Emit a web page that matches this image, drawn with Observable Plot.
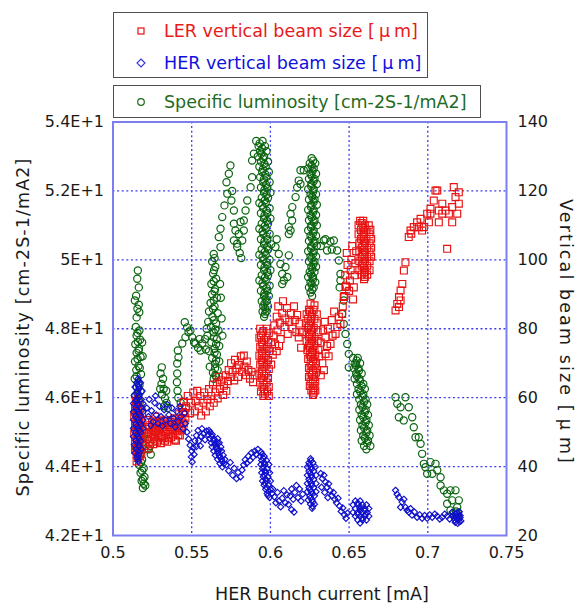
<!DOCTYPE html>
<html>
<head>
<meta charset="utf-8">
<script src="https://cdn.jsdelivr.net/npm/d3@7"></script>
<script src="https://cdn.jsdelivr.net/npm/@observablehq/plot@0.6"></script>
<style>
  body { margin: 0; background: #fff; }
  #wrap { position: relative; width: 588px; height: 605px; font-family: "DejaVu Sans", sans-serif; }
  .box { position: absolute; border: 1.5px solid #505050; background: #fff; box-sizing: border-box; }
  .row { position: absolute; left: 0; white-space: nowrap; font-size: 17.5px; line-height: 20px; height: 20px; }
  .row svg { position: absolute; left: 20px; top: 3px; }
  .row .t { position: absolute; left: 50px; top: 0; }
  .mu { margin: 0 4px; }
</style>
</head>
<body>
<div id="wrap">
  <div id="chart"></div>
  <div class="box" style="left:113px; top:12px; width:315px; height:66px;">
    <div class="row" style="top:8px;">
      <svg width="14" height="14"><rect x="4" y="4" width="6" height="6" fill="none" stroke="#e81010" stroke-width="1.2"/></svg>
      <span class="t" style="color:#e81a1a">LER vertical beam size [<span class="mu">μ</span>m]</span>
    </div>
    <div class="row" style="top:40px;">
      <svg width="14" height="14"><path d="M7 3 L11 7 L7 11 L3 7 Z" fill="none" stroke="#3030dd" stroke-width="1.1"/></svg>
      <span class="t" style="color:#1010dd">HER vertical beam size [<span class="mu">μ</span>m]</span>
    </div>
  </div>
  <div class="box" style="left:113px; top:85px; width:368px; height:33px;">
    <div class="row" style="top:5.5px;">
      <svg width="14" height="14"><circle cx="7" cy="7" r="3.3" fill="none" stroke="#1a6a1a" stroke-width="1.2"/></svg>
      <span class="t" style="color:#1f6b1f">Specific luminosity [cm-2S-1/mA2]</span>
    </div>
  </div>
</div>
<script>
// ---------- axis ticks ----------
const xTicks = [0.5, 0.55, 0.6, 0.65, 0.7, 0.75];
const yTicksLeft = [42, 44, 46, 48, 50, 52, 54];          // shown as 4.2E+1 ... 5.4E+1
const yTicksRight = [20, 40, 60, 80, 100, 120, 140];      // vertical beam size [um]
const xGrid = [0.55, 0.6, 0.65, 0.7];
const yGrid = [44, 46, 48, 50, 52];

// ---------- Specific luminosity (left axis) : [bunch current mA, luminosity] ----------
const lumSparse = [
 [0.5158,49.69],[0.5154,49.45],[0.5164,49.2],[0.5147,48.96],[0.5139,48.82],[0.5164,48.7],[0.5155,48.58],[0.5167,48.48],[0.5150,48.33],
 [0.5225,44.8],[0.5235,44.6],[0.5240,44.35],[0.5228,44.5],[0.5185,47.6],[0.5188,47.2],[0.5265,45.0],[0.5280,45.3],
 [0.5310,46.88],[0.5302,46.7],[0.5318,46.55],[0.5308,46.4],[0.5322,46.25],[0.5312,46.1],[0.5330,45.98],[0.5340,45.85],[0.5325,45.75],[0.5348,45.7],[0.5338,46.2],[0.5300,46.25],
 [0.5408,46.7],[0.5406,46.45],[0.5410,46.2],[0.5415,46.0],[0.5430,45.85],[0.5408,46.99],[0.5416,47.17],[0.5412,47.37],[0.5440,47.57],[0.5460,47.75],[0.5471,48.04],[0.5456,48.19],[0.5480,47.9],[0.5492,47.95],[0.5503,47.75],[0.5515,47.6],[0.5524,47.57],[0.5540,47.45],[0.5556,47.37],[0.5567,47.57],[0.5550,47.7],
 [0.5683,50.9],[0.5694,51.24],[0.5708,51.58],[0.5726,51.92],[0.5721,52.25],[0.5746,52.74],[0.5736,52.5],[0.5757,52.0],[0.5752,51.72],[0.5768,51.43],[0.5768,51.05],[0.5778,50.85],[0.5768,50.56],[0.5789,50.47],[0.5799,50.75],[0.5683,50.37],[0.5672,50.66],[0.5810,51.1],[0.5831,51.14],[0.5842,51.43],[0.5853,51.72],[0.5874,52.11],[0.5884,52.4],[0.5884,52.88],[0.5895,53.08],[0.5789,50.37],[0.5821,50.56],[0.5831,50.85],[0.5805,50.2],[0.5815,50.05],
 [0.6032,50.37],[0.6053,50.17],[0.6064,49.88],[0.6075,49.59],[0.6075,49.3],[0.6096,49.79],[0.6117,50.13],[0.6107,49.5],[0.6117,50.95],[0.6117,50.75],[0.6128,51.33],[0.6139,51.53],[0.6160,51.82],[0.6170,52.1],[0.6180,52.3],[0.6191,52.6],[0.6212,52.6],[0.6191,52.2],[0.6138,51.14],[0.6128,50.85],[0.6040,50.6],[0.6085,49.4],
 [0.6339,50.56],[0.6381,50.53],[0.6403,50.56],[0.6424,50.27],[0.6435,49.98],[0.6360,50.27],[0.6320,50.4],[0.6445,49.59],[0.6445,49.4],[0.6440,49.2],[0.6466,48.82],[0.6456,48.43],[0.6466,48.14],[0.6477,47.85],[0.6488,47.56],[0.6498,47.27],[0.6498,46.88],[0.6350,50.6],[0.6390,50.3],
 [0.6795,46.01],[0.6858,46.01],[0.6827,45.72],[0.6879,45.72],[0.6816,45.43],[0.6847,45.34],[0.6901,45.43],[0.6911,45.14],[0.6922,44.85],[0.6943,44.85],[0.6954,44.66],[0.6964,44.37],[0.6975,44.08],[0.6985,43.98],[0.7017,44.13],[0.7049,44.08],[0.7060,43.89],[0.7028,43.79],[0.6996,43.79],[0.7081,43.69],[0.7081,43.45],[0.7102,43.31],[0.7123,43.21],[0.7144,43.31],[0.7155,43.02],[0.7176,43.31],[0.7187,42.82],[0.7187,42.53],[0.7165,42.63],[0.7144,42.73],[0.7123,42.92],[0.7197,43.02],[0.6806,45.82],[0.7192,42.65],[0.7180,42.7]
];
// dense columns: [luminosity, x1, x2, ...]
const lumColumns = [
 [48.05,0.5145],[47.95,0.5168],[47.8,0.5150],[47.68,0.5172],[47.55,0.5142],[47.42,0.5165],[47.3,0.5150],[47.18,0.5175],[47.05,0.5140],[46.92,0.5162],[46.8,0.5148],[46.68,0.5178],[46.55,0.5138],[46.42,0.5160],[46.3,0.5152],[46.18,0.5175],[46.05,0.5140],[45.92,0.5165],[45.8,0.5150],[45.68,0.5180],[45.55,0.5138],[45.42,0.5162],[45.3,0.5150],[45.18,0.5178],[45.05,0.5140],[44.92,0.5165],[44.85,0.5190],[44.8,0.5152],[44.68,0.5182],[44.55,0.5145],[44.45,0.5170],[44.5,0.5200],[44.3,0.5158],[44.2,0.5185],[44.05,0.5165],[43.95,0.5195],[43.82,0.5175],[43.7,0.5200],[43.58,0.5182],[43.45,0.5205],[43.38,0.5190],
 [47.88,0.5156],[47.62,0.5158],[47.36,0.5162],[47.12,0.5156],[46.86,0.5170],[46.62,0.5150],[46.36,0.5168],[46.12,0.5155],[45.86,0.5170],[45.62,0.5150],[45.36,0.5166],[45.12,0.5158],[44.86,0.5175],[44.62,0.5160],[44.38,0.5175],[44.12,0.5178],[43.88,0.5185],[43.64,0.5190],[43.5,0.5195],
 [50.17,0.5640],[49.95,0.5630],[49.8,0.5650],[49.6,0.5636],[49.45,0.5655],[49.3,0.5625,0.5680],[49.15,0.5648],[49.0,0.5630],[48.9,0.5660,0.5685],[48.75,0.5620],[48.65,0.5645],[48.5,0.5610],[48.45,0.5665],[48.35,0.5632],[48.3,0.5690],[48.2,0.5605],[48.15,0.5655],[48.05,0.5622],[48.0,0.5595],[47.95,0.5670],[47.9,0.5640],[47.8,0.5600,0.5695],[47.7,0.5660,0.5585],[47.6,0.5625],[47.5,0.5675],[47.42,0.5645],[47.4,0.5590],[47.35,0.5610],[47.25,0.5660],[47.15,0.5630],[47.05,0.5675],[46.98,0.5648],[46.9,0.5615],[46.8,0.5665],[46.72,0.5635],[46.62,0.5655],[46.55,0.5640],
 [50.05,0.5645],[49.7,0.5642],[49.38,0.5640],[49.08,0.5645],[48.82,0.5640],[48.58,0.5635],[48.25,0.5640],[47.98,0.5650],[47.75,0.5640],[47.55,0.5655],[47.3,0.5645],[47.08,0.5655],[46.85,0.5648],[46.65,0.5650],
 [53.45,0.5910,0.5950],[53.3,0.5925,0.5965],[53.15,0.5935,0.5975],[53.0,0.5920,0.5960],[52.85,0.5940,0.5985],[52.7,0.5930,0.5970],[52.55,0.5948,0.5990],[52.4,0.5935,0.5975],[52.25,0.5955,0.5995],[52.1,0.5940,0.5980],[51.95,0.5960,0.6000],[51.8,0.5945,0.5985],[51.65,0.5930,0.5970],[51.5,0.5955,0.5995],[51.35,0.5940,0.5980],[51.2,0.5960,0.6000],[51.05,0.5945,0.5985],[50.9,0.5930,0.5970],[50.75,0.5955,0.5995],[50.6,0.5940,0.5980],[50.45,0.5960,0.6005],[50.3,0.5945,0.5985],[50.15,0.5930,0.5970],[50.0,0.5955,0.5995],[49.85,0.5940,0.5980],[49.7,0.5960,0.6000],[49.55,0.5945,0.5985],[49.4,0.5930,0.5970],[49.25,0.5955,0.5995],[49.1,0.5940,0.5980],[48.95,0.5960,0.5990],[48.8,0.5945,0.5975],[48.65,0.5955,0.5985],[48.5,0.5950,0.5975],[48.35,0.5960],
 [53.38,0.5932],[53.23,0.5948],[53.08,0.5942],[52.93,0.5955],[52.78,0.5962],[52.63,0.5952],[52.48,0.5968],[52.33,0.5958],[52.18,0.5972],[52.03,0.5962],[51.88,0.5975],[51.73,0.5965],[51.58,0.5948],[51.43,0.5975],[51.28,0.5962],[51.13,0.5978],[50.98,0.5965],[50.83,0.5950],[50.68,0.5975],[50.53,0.5962],[50.38,0.5980],[50.23,0.5965],[50.08,0.5950],[49.93,0.5975],[49.78,0.5962],[49.63,0.5980],[49.48,0.5965],[49.33,0.5950],[49.18,0.5975],[49.03,0.5962],[48.88,0.5970],[48.73,0.5962],[48.58,0.5968],[48.43,0.5965],
 [52.95,0.6262],[52.8,0.6250,0.6285],[52.65,0.6240,0.6275],[52.5,0.6255,0.6290],[52.35,0.6245,0.6280],[52.2,0.6260,0.6295],[52.05,0.6240,0.6275],[51.9,0.6255,0.6290],[51.75,0.6245,0.6280],[51.6,0.6260,0.6295],[51.45,0.6240,0.6275],[51.3,0.6255,0.6290],[51.15,0.6245,0.6280],[51.0,0.6260,0.6295],[50.85,0.6240,0.6275],[50.7,0.6255,0.6290],[50.55,0.6245,0.6280],[50.4,0.6260,0.6295],[50.25,0.6240,0.6275],[50.1,0.6255,0.6290],[49.95,0.6245,0.6280],[49.8,0.6260,0.6290],[49.65,0.6250,0.6280],[49.5,0.6240,0.6270],[49.35,0.6255,0.6285],[49.2,0.6245,0.6275],[49.05,0.6255],[48.95,0.6265],
 [52.88,0.6272],[52.73,0.6262],[52.58,0.6268],[52.43,0.6262],[52.28,0.6275],[52.13,0.6260],[51.98,0.6272],[51.83,0.6265],[51.68,0.6275],[51.53,0.6258],[51.38,0.6272],[51.23,0.6262],[51.08,0.6276],[50.93,0.6258],[50.78,0.6272],[50.63,0.6262],[50.48,0.6276],[50.33,0.6258],[50.18,0.6272],[50.03,0.6262],[49.88,0.6274],[49.73,0.6266],[49.58,0.6258],[49.43,0.6270],[49.28,0.6262],[49.13,0.6266],
 [47.15,0.6525,0.6555],[47.0,0.6540,0.6570],[46.85,0.6530,0.6560],[46.7,0.6545,0.6580],[46.55,0.6535,0.6565],[46.4,0.6550,0.6590],[46.25,0.6560,0.6600],[46.1,0.6550,0.6590],[45.95,0.6565,0.6605],[45.8,0.6575,0.6615],[45.65,0.6565,0.6605],[45.5,0.6580,0.6620],[45.35,0.6570,0.6610],[45.2,0.6585,0.6625],[45.05,0.6575,0.6615],[44.9,0.6590,0.6630],[44.75,0.6580,0.6620],[44.6,0.6595,0.6635],[44.5,0.6610],
 [47.08,0.6548],[46.93,0.6545],[46.78,0.6562],[46.63,0.6550],[46.48,0.6570],[46.33,0.6580],[46.18,0.6570],[46.03,0.6585],[45.88,0.6595],[45.73,0.6585],[45.58,0.6600],[45.43,0.6590],[45.28,0.6605],[45.13,0.6595],[44.98,0.6610],[44.83,0.6600],[44.68,0.6615]
];

// ---------- LER vertical beam size [um] (right axis) ----------
const lerSparse = [
 [0.5205,46.0],[0.5215,48.5],[0.5210,51.0],[0.5220,53.5],[0.5235,47.0],[0.5240,49.5],[0.5232,52.0],[0.5255,46.5],[0.5260,48.8],[0.5265,51.2],[0.5258,53.3],[0.5280,47.2],[0.5285,49.8],[0.5290,52.3],[0.5305,46.8],[0.5310,49.0],[0.5315,51.5],[0.5308,53.6],[0.5330,47.5],[0.5335,50.0],[0.5340,52.5],[0.5355,48.2],[0.5360,50.6],[0.5365,53.0],[0.5380,49.0],[0.5385,51.5],[0.5390,54.0],[0.5400,47.5],[0.5405,50.2],[0.5410,52.8],[0.5420,55.2],[0.5425,49.0],[0.5430,51.6],[0.5435,54.0],[0.5440,57.0],[0.5450,52.5],[0.5455,55.5],[0.5448,58.8],[0.5270,54.5],[0.5225,45.2],
 [0.5218,49.8],[0.5228,51.5],[0.5245,48.0],[0.5250,50.5],[0.5248,52.8],[0.5270,47.5],[0.5272,50.2],[0.5278,52.5],[0.5295,48.5],[0.5298,51.0],[0.5300,53.0],[0.5320,48.2],[0.5322,50.8],[0.5325,53.2],[0.5345,47.2],[0.5348,49.5],[0.5350,52.0],[0.5370,48.5],[0.5372,51.0],[0.5375,53.5],[0.5392,47.8],[0.5395,50.5],[0.5398,52.5],[0.5415,49.2],[0.5418,51.8],[0.5420,53.8],[0.5438,50.5],[0.5442,52.8],[0.5445,55.8],[0.5460,54.0],[0.5462,57.0],
 [0.5465,57.5],[0.5475,60.5],[0.5490,55.5],[0.5495,58.5],[0.5510,61.5],[0.5520,56.0],[0.5525,59.0],[0.5535,62.0],[0.5545,57.5],[0.5555,60.5],[0.5560,54.8],[0.5575,58.5],[0.5580,61.5],[0.5590,56.0],[0.5600,59.5],[0.5610,62.5],[0.5615,57.5],[0.5625,60.5],[0.5635,63.8],[0.5640,58.5],[0.5650,61.5],[0.5660,64.5],[0.5665,59.8],[0.5672,66.0],[0.5680,62.5],[0.5690,65.0],[0.5700,60.8],[0.5705,63.5],[0.5715,66.5],[0.5720,62.0],[0.5730,64.8],[0.5735,68.0],[0.5745,66.0],[0.5750,70.0],[0.5760,67.5],[0.5770,65.0],[0.5775,71.0],[0.5785,68.5],[0.5795,66.0],[0.5800,69.5],[0.5812,72.0],[0.5820,67.5],[0.5831,72.2],[0.5835,69.0],[0.5845,66.5],[0.5850,70.5],[0.5860,68.0],[0.5870,65.5],[0.5880,67.5],[0.5890,64.5],[0.5900,66.5],
 [0.6020,78.0],[0.6025,81.0],[0.6030,75.5],[0.6040,83.5],[0.6045,79.5],[0.6050,86.5],[0.6060,81.8],[0.6065,77.0],[0.6075,84.5],[0.6080,88.0],[0.6090,80.5],[0.6095,83.0],[0.6105,86.0],[0.6110,78.5],[0.6120,82.0],[0.6130,84.5],[0.6140,80.0],[0.6150,86.5],[0.6155,82.5],[0.6165,79.0],[0.6170,84.0],[0.6180,77.5],[0.6185,81.5],[0.6195,74.5],[0.6200,79.0],[0.6040,73.5],[0.6055,75.0],[0.6015,72.5],
 [0.6255,87.3],[0.6280,86.8],
 [0.6320,66.5],[0.6330,70.0],[0.6340,68.0],[0.6350,72.7],[0.6360,75.0],[0.6370,72.0],[0.6382,75.6],[0.6395,78.0],[0.6414,78.5],[0.6425,80.5],[0.6445,81.4],[0.6435,83.5],[0.6456,84.3],[0.6460,86.5],[0.6466,89.2],[0.6477,92.1],[0.6310,72.0],[0.6320,76.0],[0.6335,79.5],[0.6350,77.5],[0.6345,82.0],[0.6365,80.0],[0.6390,82.5],[0.6405,85.0],
 [0.6470,89.5],[0.6480,92.5],[0.6475,95.5],[0.6490,98.5],[0.6485,102.0],[0.6500,91.0],[0.6505,94.0],[0.6510,97.0],[0.6515,100.0],[0.6525,88.5],[0.6530,92.0],[0.6535,95.5],[0.6540,99.0],[0.6545,102.5],[0.6520,104.0],
 [0.6806,87.2],[0.6795,85.3],[0.6817,89.2],[0.6827,91.1],[0.6838,93.0],[0.6848,96.9],[0.6858,99.3],[0.6817,86.3],[0.6827,88.2],[0.6879,106.6],[0.6890,108.5],[0.6911,109.5],[0.6932,110.9],[0.6954,111.9],[0.6964,108.5],[0.6975,109.5],[0.6895,107.6],[0.6943,109.5],[0.6996,113.4],[0.7017,114.8],[0.7038,117.2],[0.7049,120.1],[0.7070,114.3],[0.7092,113.4],[0.7113,114.3],[0.7134,113.4],[0.7155,115.3],[0.7176,118.2],[0.7165,121.1],[0.7197,119.6],[0.7197,116.3],[0.7187,113.4],[0.7155,110.9],[0.7070,110.9],[0.7123,103.2],[0.7017,113.4],[0.7060,120.1],[0.7007,110.9],[0.7092,116.3]
];
const lerColumns = [
 [59.5,0.5160],[58.0,0.5150],[56.8,0.5140,0.5170],[55.6,0.5155,0.5185],[54.4,0.5135,0.5165],[53.2,0.5150,0.5180],[52.0,0.5140,0.5170],[50.8,0.5155,0.5185],[49.6,0.5135,0.5165],[48.4,0.5150,0.5180],[47.2,0.5140,0.5170],[46.0,0.5155,0.5185],[44.8,0.5140,0.5170],[43.6,0.5150,0.5180],[42.5,0.5160],[41.5,0.5150],
 [59.0,0.5145],[57.4,0.5160],[56.2,0.5160],[55.0,0.5150],[53.8,0.5160],[52.6,0.5155],[51.4,0.5165],[50.2,0.5150],[49.0,0.5165],[47.8,0.5155],[46.6,0.5165],[45.4,0.5150],[44.2,0.5160],[43.0,0.5170],
 [80.0,0.5935,0.5975],[78.7,0.5950,0.5990],[77.4,0.5930,0.5970],[76.1,0.5945,0.5985,0.6005],[74.8,0.5935,0.5975],[73.5,0.5950,0.5990],[72.2,0.5930,0.5970],[70.9,0.5945,0.5985],[69.6,0.5935,0.5975,0.6005],[68.3,0.5950,0.5990],[67.0,0.5930,0.5970],[65.7,0.5945,0.5985],[64.4,0.5935,0.5975],[63.1,0.5950,0.5990],[61.8,0.5940,0.5980],[60.5,0.5955,0.5990],
 [79.35,0.5955],[78.05,0.5940],[76.75,0.5960],[75.45,0.5950],[74.15,0.5962],[72.85,0.5945],[71.55,0.5958],[70.25,0.5950],[68.95,0.5962],[67.65,0.5948],[66.35,0.5960],[65.05,0.5955],[63.75,0.5962],[62.45,0.5960],[61.15,0.5965],
 [85.5,0.6245,0.6275],[84.2,0.6230,0.6265,0.6295],[82.9,0.6240,0.6280],[81.6,0.6225,0.6260,0.6295],[80.3,0.6240,0.6275],[79.0,0.6230,0.6265,0.6300],[77.7,0.6245,0.6280],[76.4,0.6230,0.6265,0.6300],[75.1,0.6245,0.6280],[73.8,0.6235,0.6270,0.6305],[72.5,0.6250,0.6285],[71.2,0.6240,0.6275],[69.9,0.6255,0.6290],[68.6,0.6245,0.6280],[67.3,0.6255,0.6290],[66.0,0.6245,0.6280],[64.7,0.6255,0.6285],[63.4,0.6250,0.6280],[62.1,0.6260,0.6285],[60.8,0.6270],
 [84.85,0.6250],[83.55,0.6260],[82.25,0.6255],[80.95,0.6245],[79.65,0.6258],[78.35,0.6250],[77.05,0.6262],[75.75,0.6255],[74.45,0.6252],[73.15,0.6265],[71.85,0.6258],[70.55,0.6270],[69.25,0.6262],[67.95,0.6270],[66.65,0.6265],[65.35,0.6270],[64.05,0.6268],[62.75,0.6272],[61.45,0.6275],
 [111.3,0.6570,0.6590],[110.0,0.6560,0.6600,0.6625],[108.7,0.6575,0.6610,0.6635],[107.4,0.6560,0.6595,0.6630],[106.1,0.6575,0.6610,0.6640],[104.8,0.6565,0.6600,0.6630],[103.5,0.6580,0.6615,0.6640],[102.2,0.6565,0.6600,0.6630],[100.9,0.6580,0.6615,0.6640],[99.6,0.6565,0.6600,0.6630],[98.3,0.6580,0.6615],[97.0,0.6565,0.6600,0.6630],[95.7,0.6580,0.6615],[94.4,0.6595],
 [110.65,0.6580],[109.35,0.6590],[108.05,0.6595],[106.75,0.6585],[105.45,0.6595],[104.15,0.6585],[102.85,0.6595],[101.55,0.6585],[100.25,0.6598],[98.95,0.6590],[97.65,0.6595],[96.35,0.6595],[95.05,0.6600]
];

// ---------- HER vertical beam size [um] (right axis) ----------
const herSparse = [
 [0.5215,57.0],[0.5225,54.5],[0.5230,59.5],[0.5245,56.2],[0.5255,53.0],[0.5265,58.5],[0.5275,55.0],[0.5285,52.5],[0.5295,57.5],[0.5305,54.5],[0.5315,51.8],[0.5325,56.5],[0.5335,53.5],[0.5345,58.0],[0.5355,55.0],[0.5365,52.5],[0.5375,57.0],[0.5385,54.0],[0.5395,51.5],[0.5405,56.0],[0.5415,53.0],[0.5425,57.5],[0.5435,54.5],[0.5445,51.0],[0.5455,55.5],[0.5460,52.5],[0.5270,60.5],[0.5240,52.0],
 [0.5470,50.0],[0.5480,48.0],[0.5490,46.2],[0.5500,44.5],[0.5503,41.3],[0.5498,42.8],[0.5510,45.5],[0.5520,47.5],[0.5530,49.0],[0.5540,50.5],[0.5530,45.8],[0.5515,43.5],[0.5545,47.5],[0.5555,46.0],[0.5560,48.8],[0.5565,51.0],[0.5575,49.5],[0.5585,47.8],[0.5595,50.3],
 [0.5720,40.5],[0.5735,38.8],[0.5745,41.2],[0.5760,37.5],[0.5770,39.5],[0.5785,36.5],[0.5795,38.3],[0.5810,37.0],[0.5820,39.0],[0.5830,40.5],[0.5840,42.0],[0.5850,41.0],[0.5860,43.0],[0.5870,41.8],[0.5880,44.0],[0.5890,42.8],[0.5900,44.5],[0.5910,43.5],[0.5920,45.0],
 [0.6015,33.5],[0.6025,31.2],[0.6035,29.5],[0.6045,32.5],[0.6055,30.0],[0.6065,28.3],[0.6075,30.8],[0.6085,33.0],[0.6095,29.5],[0.6105,31.8],[0.6115,29.0],[0.6125,31.5],[0.6135,33.5],[0.6145,30.5],[0.6155,32.5],[0.6165,34.5],[0.6175,31.0],[0.6185,33.5],[0.6195,30.0],[0.6205,32.0],[0.6135,27.5],[0.6150,26.8],
 [0.6320,38.0],[0.6330,36.5],[0.6340,37.5],[0.6350,35.5],[0.6360,34.0],[0.6370,35.0],[0.6380,33.0],[0.6390,31.5],[0.6400,32.5],[0.6410,30.5],[0.6420,29.5],[0.6430,30.8],[0.6440,28.5],[0.6450,27.0],[0.6460,28.0],[0.6470,26.0],[0.6480,25.0],[0.6490,26.5],[0.6325,34.0],[0.6345,32.5],[0.6365,31.0],
 [0.6795,33.1],[0.6805,32.0],[0.6816,31.1],[0.6827,28.2],[0.6837,29.7],[0.6848,30.5],[0.6858,28.2],[0.6869,27.3],[0.6879,26.8],[0.6890,27.8],[0.6900,25.9],[0.6915,26.8],[0.6932,25.3],[0.6948,26.0],[0.6964,25.0],[0.6980,25.8],[0.6996,25.0],[0.7012,26.0],[0.7028,25.3],[0.7044,26.2],[0.7060,25.6],[0.7076,24.8],[0.7091,25.3],[0.7107,26.2],[0.7123,25.6],[0.7139,24.8],[0.7155,26.8],[0.7165,25.2],[0.7175,23.8],[0.7185,26.5],[0.7195,24.6],[0.7205,25.8],[0.7190,23.5],[0.7170,24.5],[0.7160,25.8],[0.7200,26.9],[0.7210,24.2],[0.7180,25.5],
 [0.7185,25.0],[0.7200,24.0],[0.7195,26.0],[0.7205,25.2]
];
const herColumns = [
 [65.5,0.5160],[64.3,0.5150,0.5175],[63.1,0.5140,0.5165],[61.9,0.5155,0.5185],[60.7,0.5135,0.5165],[59.5,0.5150,0.5180],[58.3,0.5130,0.5160,0.5190],[57.1,0.5145,0.5175],[55.9,0.5130,0.5160,0.5190],[54.7,0.5145,0.5175],[53.5,0.5130,0.5160,0.5190],[52.3,0.5145,0.5175],[51.1,0.5130,0.5160,0.5190],[49.9,0.5145,0.5175],[48.7,0.5130,0.5160],[47.5,0.5145,0.5175],[46.3,0.5135,0.5165],[45.1,0.5150,0.5180],[43.9,0.5140,0.5165],[42.7,0.5155],[41.5,0.5160],
 [64.9,0.5162],[63.7,0.5158],[62.5,0.5165],[61.3,0.5150],[60.1,0.5165],[58.9,0.5145],[57.7,0.5160],[56.5,0.5152],[55.3,0.5168],[54.1,0.5152],[52.9,0.5168],[51.7,0.5152],[50.5,0.5168],[49.3,0.5152],[48.1,0.5165],[46.9,0.5155],[45.7,0.5165],[44.5,0.5158],[43.3,0.5160],[42.1,0.5158],
 [50.5,0.5610],[49.3,0.5605,0.5630],[48.1,0.5615,0.5640,0.5665],[46.9,0.5625,0.5650,0.5675],[45.7,0.5630,0.5655,0.5685],[44.5,0.5640,0.5665,0.5690],[43.3,0.5650,0.5675,0.5700],[42.1,0.5665,0.5690,0.5710],[40.9,0.5680,0.5705],[39.9,0.5695],
 [49.9,0.5618],[48.7,0.5628],[47.5,0.5640],[46.3,0.5650],[45.1,0.5660],[43.9,0.5668],[42.7,0.5680],[41.5,0.5692],[47.0,0.5662],[44.8,0.5675],
 [44.2,0.5940],[43.0,0.5935,0.5960],[41.8,0.5945,0.5975],[40.6,0.5940,0.5965,0.5990],[39.4,0.5950,0.5980],[38.2,0.5945,0.5970,0.5995],[37.0,0.5955,0.5985],[35.8,0.5950,0.5975,0.6000],[34.6,0.5960,0.5990],[33.4,0.5970,0.6000],[32.2,0.5980,0.6010],[31.0,0.5995],
 [43.6,0.5948],[42.4,0.5955],[41.2,0.5960],[40.0,0.5955],[38.8,0.5965],[37.6,0.5960],[36.4,0.5970],[35.2,0.5965],[34.0,0.5975],[32.8,0.5990],[31.6,0.5985],
 [42.3,0.6255],[41.1,0.6245,0.6270],[39.9,0.6235,0.6260,0.6285],[38.7,0.6245,0.6275],[37.5,0.6235,0.6260,0.6290],[36.3,0.6245,0.6275],[35.1,0.6235,0.6260,0.6290],[33.9,0.6245,0.6275],[32.7,0.6235,0.6260,0.6290],[31.5,0.6250,0.6280],[30.3,0.6240,0.6265],[29.1,0.6255,0.6280],[27.9,0.6265],
 [41.7,0.6258],[40.5,0.6250],[39.3,0.6262],[38.1,0.6252],[36.9,0.6262],[35.7,0.6252],[34.5,0.6262],[33.3,0.6252],[32.1,0.6268],[30.9,0.6255],[29.7,0.6270],[28.5,0.6268],
 [30.0,0.6540,0.6570],[28.9,0.6525,0.6555,0.6585,0.6610],[27.8,0.6540,0.6570,0.6600,0.6625],[26.7,0.6525,0.6555,0.6585,0.6615],[25.6,0.6540,0.6570,0.6600,0.6625],[24.5,0.6555,0.6585,0.6610],[23.6,0.6570],
 [29.45,0.6555],[28.35,0.6570],[27.25,0.6570,0.6600],[26.15,0.6555,0.6605],[25.05,0.6585]
];

// ---------- assemble ----------
const unrow = rows => rows.flatMap(([y, ...xs]) => xs.map(x => [x, y]));
const specLum = [...unrow(lumColumns), ...lumSparse];
const lerSize = [...lerSparse, ...unrow(lerColumns)];
const herSize = [...herSparse, ...unrow(herColumns)];

// right axis (beam size) mapped onto the left luminosity scale
const toLeft = um => 42 + (um - 20) / 10;
const leftFmt = v => `${+(v / 10).toFixed(2)}E+1`;
const rightFmt = v => String(Math.round((v - 42) * 10 + 20));

const gridColor = "#3b3bf0";
const chart = Plot.plot({
  width: 588,
  height: 605,
  marginLeft: 112.5,
  marginRight: 82,
  marginTop: 121.5,
  marginBottom: 70,
  x: { domain: [0.5, 0.75] },
  y: { domain: [42, 54] },
  style: { fontFamily: "DejaVu Sans, sans-serif", fontSize: "16px", color: "#1a1a1a", background: "white" },
  marks: [
    Plot.gridX(xGrid, { stroke: gridColor, strokeOpacity: 1, strokeWidth: 1.3, strokeDasharray: "2,2.6" }),
    Plot.gridY(yGrid, { stroke: gridColor, strokeOpacity: 1, strokeWidth: 1.3, strokeDasharray: "2,2.6" }),
    Plot.dot(specLum, { x: d => d[0], y: d => d[1], symbol: "circle", r: 3.6, stroke: "#0a640f", strokeWidth: 1.2, fill: "none" }),
    Plot.dot(lerSize, { x: d => d[0], y: d => toLeft(d[1]), symbol: "square", r: 3.9, stroke: "#e81212", strokeWidth: 1.15, fill: "none" }),
    Plot.dot(herSize, { x: d => d[0], y: d => toLeft(d[1]), symbol: "diamond2", r: 2.8, stroke: "#1010cc", strokeWidth: 1.15, fill: "none" }),
    Plot.frame({ stroke: "#7d7df2", strokeWidth: 2 }),
    Plot.axisX(xTicks, { tickSize: 0, tickPadding: 11, tickFormat: d => String(+d.toFixed(2)), label: null }),
    Plot.axisY(yTicksLeft, { anchor: "left", tickSize: 0, tickPadding: 9, tickFormat: leftFmt, label: null }),
    Plot.axisY(yTicksRight.map(v => toLeft(v)), { anchor: "right", tickSize: 0, tickPadding: 11, tickFormat: rightFmt, label: null })
  ]
});

document.getElementById("chart").appendChild(chart);

// axis titles
const svg = d3.select(chart);
svg.append("text")
  .attr("x", 322).attr("y", 594)
  .attr("text-anchor", "middle").attr("dominant-baseline", "central")
  .attr("font-family", "DejaVu Sans, sans-serif").attr("font-size", 17.5).attr("fill", "#1a1a1a")
  .text("HER Bunch current [mA]");
svg.append("text")
  .attr("transform", "translate(23,327) rotate(-90)")
  .attr("text-anchor", "middle").attr("dominant-baseline", "central")
  .attr("font-family", "DejaVu Sans, sans-serif").attr("font-size", 17.5).attr("letter-spacing", 1.1).attr("fill", "#1a1a1a")
  .text("Specific luminosity [cm-2S-1/mA2]");
const rt = svg.append("text")
  .attr("transform", "translate(566,332) rotate(90)")
  .attr("text-anchor", "middle").attr("dominant-baseline", "central")
  .attr("font-family", "DejaVu Sans, sans-serif").attr("font-size", 17.5).attr("letter-spacing", 2.1).attr("fill", "#1a1a1a");
rt.append("tspan").text("Vertical beam size [");
rt.append("tspan").attr("dx", 5).text("μ");
rt.append("tspan").attr("dx", 5).text("m]");
</script>
</body>
</html>
